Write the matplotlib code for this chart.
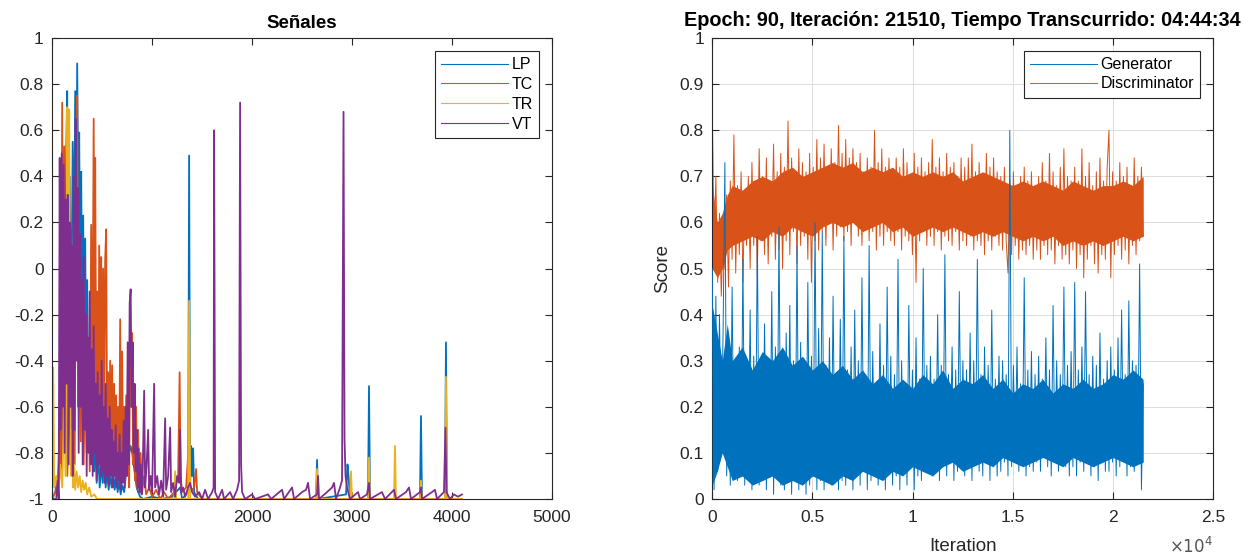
import numpy as np
import matplotlib
matplotlib.use('Agg')
import matplotlib.pyplot as plt
from matplotlib.ticker import FuncFormatter

plt.rcParams['font.family'] = ['Liberation Sans', 'DejaVu Sans']
plt.rcParams['axes.unicode_minus'] = False

# --- left panel: signals (sample index, value) ---
lp_x = [0, 30, 60, 80, 95, 110, 125, 140, 150, 160, 175, 190, 205, 220, 230, 240, 250, 260, 270, 280,
        290, 300, 310, 320, 330, 340, 350, 360, 370, 380, 390, 400, 410, 420, 430, 445, 460, 475, 490, 505,
        520, 535, 550, 565, 580, 595, 610, 625, 640, 655, 670, 685, 700, 720, 740, 755, 770, 785, 800, 815,
        830, 845, 860, 880, 910, 1000, 1100, 1200, 1280, 1300, 1360, 1370, 1380, 1390, 1400, 1410, 1420, 1460,
        2640, 2650, 2660, 2940, 2955, 2965, 2980, 3160, 3170, 3180, 3680, 3690, 3700, 3930, 3940, 3950, 4100]
lp_y = [-1, -0.97, -0.9, -0.6, -0.9, 0.2, -0.5, 0.5, 0.77, -0.2, 0.4, -0.3, 0.55, 0.1, 0.77, 0.2, 0.89, 0.3, 0.59, -0.1,
        0.42, -0.3, 0.23, -0.4, 0.13, -0.5, -0.05, -0.6, -0.3, -0.7, -0.45, -0.8, -0.65, -0.88, -0.7, -0.93, -0.8, -0.95, -0.85, -0.93,
        -0.82, -0.95, -0.88, -0.96, -0.9, -0.95, -0.87, -0.96, -0.9, -0.97, -0.92, -0.98, -0.94, -0.97, -0.88, -0.82, -0.8, -0.77, -0.8, -0.85,
        -0.9, -0.95, -0.97, -0.99, -1, -0.99, -1, -0.99, -0.95, -1, -0.97, 0.49, -0.95, -0.77, -0.9, -0.78, -0.97, -1,
        -1, -0.83, -1, -0.98, -0.85, -0.9, -1, -1, -0.51, -1, -1, -0.64, -1, -1, -0.32, -1, -1]

tc_x = [0, 50, 70, 85, 100, 110, 120, 130, 140, 150, 165, 180, 195, 210, 225, 240, 250, 260, 270, 285,
        300, 315, 330, 345, 360, 375, 390, 400, 415, 425, 430, 440, 450, 460, 470, 480, 490, 500, 510, 520,
        530, 540, 550, 560, 570, 580, 590, 600, 610, 620, 630, 640, 650, 660, 670, 680, 690, 700, 710, 720,
        730, 740, 750, 760, 770, 780, 790, 800, 810, 820, 830, 840, 850, 860, 870, 885, 900, 920, 940, 970,
        1000, 1040, 1080, 1120, 1160, 1220, 1260, 1275, 1285, 1300, 1340, 1370, 1380, 1420, 1440, 1450, 1500, 4100]
tc_y = [-1, -0.95, -0.85, -0.9, 0.72, -0.8, 0.53, -0.6, 0.2, -0.9, -0.7, 0.1, -0.8, -0.5, -0.85, 0.35, 0.75, -0.6, 0.1, -0.75,
        -0.2, -0.85, -0.4, -0.8, -0.3, -0.88, 0.19, -0.7, 0.65, -0.6, 0.48, -0.5, -0.1, -0.75, 0.1, -0.6, 0.05, -0.8, 0.0, -0.7,
        0.04, 0.17, -0.8, -0.45, -0.85, -0.4, -0.88, -0.42, -0.83, -0.5, -0.9, -0.55, -0.85, -0.6, -0.9, -0.22, -0.8, -0.36, -0.88, -0.6,
        -0.93, -0.55, -0.9, -0.7, -0.95, -0.25, -0.6, -0.28, -0.85, -0.5, -0.92, -0.6, -0.95, -0.7, -0.96, -0.8, -0.97, -0.9, -0.98, -0.95,
        -0.99, -0.96, -1, -0.97, -1, -0.97, -0.9, -0.45, -0.9, -0.97, -0.95, -0.74, -0.97, -0.95, -0.87, -0.97, -1, -1]

tr_x = [0, 10, 20, 40, 60, 80, 100, 120, 135, 150, 160, 170, 180, 190, 200, 210, 220, 230, 245, 260,
        275, 290, 305, 320, 335, 350, 370, 390, 420, 450, 1220, 1230, 1240, 1360, 1370, 1380, 2640, 2650, 2660,
        2980, 2990, 3000, 3160, 3170, 3180, 3420, 3430, 3440, 3680, 3690, 3700, 3930, 3940, 3950, 4100]
tr_y = [-1, -0.43, -0.95, -0.9, -0.98, -0.85, -0.95, -0.6, -0.9, 0.7, 0.2, 0.69, -0.5, -0.9, -0.7, -0.95, -0.85, -0.96, -0.88, -0.95,
        -0.9, -0.97, -0.92, -0.96, -0.93, -0.98, -0.95, -0.99, -0.98, -1, -1, -0.88, -1, -1, -0.14, -1, -1, -0.87, -1,
        -1, -0.88, -1, -1, -0.82, -1, -1, -0.77, -1, -1, -0.92, -1, -1, -0.47, -1, -1]

vt_x = [0, 40, 55, 65, 75, 85, 95, 105, 115, 125, 135, 145, 155, 165, 175, 185, 195, 205, 215, 225,
        235, 245, 255, 265, 275, 285, 295, 305, 315, 325, 335, 345, 355, 365, 375, 385, 395, 405, 415, 425,
        435, 445, 455, 465, 475, 485, 495, 505, 515, 525, 535, 545, 555, 565, 575, 585, 595, 605, 615, 625,
        635, 645, 655, 665, 675, 685, 695, 705, 715, 725, 735, 745, 755, 765, 775, 785, 795, 805, 815, 825,
        835, 845, 855, 865, 875, 885, 895, 905, 920, 930, 945, 960, 970, 985, 1000, 1020, 1030, 1050, 1070, 1090,
        1110, 1130, 1140, 1160, 1180, 1190, 1210, 1230, 1250, 1270, 1280, 1290, 1310, 1330, 1360, 1380, 1400, 1430, 1470, 1500,
        1530, 1560, 1600, 1615, 1620, 1630, 1660, 1700, 1720, 1780, 1810, 1850, 1870, 1880, 1890, 1900, 1930, 2000, 2030, 2160,
        2190, 2300, 2320, 2400, 2420, 2500, 2540, 2560, 2580, 2650, 2660, 2670, 2750, 2800, 2820, 2840, 2880, 2900, 2915, 2925,
        2935, 2950, 2980, 3060, 3080, 3150, 3170, 3180, 3300, 3330, 3420, 3440, 3540, 3570, 3590, 3680, 3690, 3700, 3800, 3830,
        3850, 3920, 3935, 3945, 3980, 4020, 4060, 4100]
vt_y = [-1, -1, -0.92, -1, 0.48, -0.7, 0.5, -0.6, 0.45, -0.8, 0.3, -0.5, 0.32, -0.85, 0.2, -0.6, 0.1, -0.9, 0.4, -0.7,
        0.65, -0.4, 0.35, -0.8, 0.15, -0.6, -0.05, -0.85, 0.05, -0.7, -0.2, -0.9, -0.3, -0.8, -0.1, -0.85, -0.35, -0.9, -0.25, -0.8,
        -0.5, -0.92, -0.45, -0.85, -0.55, -0.9, -0.4, -0.88, -0.6, -0.93, -0.5, -0.9, -0.65, -0.94, -0.6, -0.9, -0.7, -0.95, -0.75, -0.9,
        -0.68, -0.95, -0.8, -0.92, -0.72, -0.96, -0.8, -0.93, -0.66, -0.95, -0.6, -0.9, -0.32, -0.85, -0.15, -0.09, -0.6, -0.32, -0.8, -0.5,
        -0.88, -0.7, -0.95, -0.78, -0.97, -0.85, -0.98, -0.9, -0.53, -0.95, -0.85, -0.7, -0.96, -0.9, -0.97, -0.5, -0.95, -0.9, -0.98, -0.92,
        -0.99, -0.65, -0.96, -0.9, -0.69, -0.97, -0.93, -0.99, -0.9, -0.93, -0.7, -0.97, -0.95, -0.99, -0.95, -0.93, -0.97, -0.99, -0.97, -1,
        -0.96, -1, -0.97, -0.95, 0.6, -0.97, -1, -0.96, -1, -0.97, -1, -0.96, -0.92, 0.72, -0.85, -0.97, -1, -0.98, -1, -0.98,
        -1, -0.96, -1, -0.95, -1, -0.97, -0.96, -0.93, -1, -0.98, -0.9, -1, -0.97, -0.95, -0.93, -1, -0.95, -0.92, 0.68, -0.74,
        -0.9, -0.95, -1, -0.97, -1, -0.98, -0.93, -1, -0.97, -1, -0.96, -1, -0.97, -0.95, -1, -0.97, -0.95, -1, -0.97, -0.96,
        -1, -0.97, -0.69, -0.97, -1, -0.98, -0.99, -0.98]

signal_names = ['LP', 'TC', 'TR', 'VT']

# --- right panel: GAN scores, sampled across 21510 iterations ---
n_iter = 21510
gen_score = [
    0.50, 0.02, 0.44, 0.06, 0.40, 0.12, 0.36, 0.73, 0.05, 0.30, 0.03, 0.46, 0.08, 0.28, 0.04, 0.33, 0.06, 0.52, 0.03, 0.27,
    0.05, 0.41, 0.02, 0.31, 0.07, 0.57, 0.03, 0.29, 0.04, 0.38, 0.02, 0.26, 0.06, 0.45, 0.01, 0.33, 0.05, 0.59, 0.03, 0.28,
    0.02, 0.36, 0.05, 0.42, 0.01, 0.30, 0.04, 0.55, 0.02, 0.34, 0.06, 0.27, 0.01, 0.47, 0.03, 0.31, 0.05, 0.60, 0.02, 0.37,
    0.04, 0.58, 0.02, 0.29, 0.06, 0.35, 0.03, 0.44, 0.05, 0.26, 0.02, 0.39, 0.04, 0.57, 0.03, 0.28, 0.06, 0.33, 0.02, 0.41,
    0.05, 0.30, 0.03, 0.48, 0.07, 0.27, 0.02, 0.55, 0.04, 0.32, 0.06, 0.25, 0.03, 0.38, 0.05, 0.29, 0.02, 0.46, 0.06, 0.31,
    0.03, 0.27, 0.05, 0.52, 0.02, 0.30, 0.06, 0.24, 0.03, 0.42, 0.07, 0.28, 0.02, 0.35, 0.05, 0.26, 0.04, 0.50, 0.06, 0.29,
    0.07, 0.31, 0.05, 0.26, 0.08, 0.40, 0.04, 0.29, 0.07, 0.53, 0.05, 0.27, 0.09, 0.33, 0.04, 0.28, 0.06, 0.45, 0.08, 0.30,
    0.05, 0.28, 0.07, 0.36, 0.04, 0.30, 0.08, 0.52, 0.06, 0.27, 0.05, 0.33, 0.09, 0.29, 0.04, 0.41, 0.07, 0.26, 0.05, 0.31,
    0.06, 0.30, 0.08, 0.27, 0.05, 0.80, 0.07, 0.29, 0.09, 0.33, 0.06, 0.25, 0.08, 0.48, 0.05, 0.28, 0.07, 0.32, 0.06, 0.27,
    0.08, 0.31, 0.06, 0.26, 0.09, 0.35, 0.07, 0.28, 0.05, 0.42, 0.08, 0.30, 0.06, 0.27, 0.09, 0.46, 0.07, 0.29, 0.05, 0.32,
    0.07, 0.47, 0.05, 0.28, 0.08, 0.33, 0.06, 0.45, 0.09, 0.27, 0.05, 0.31, 0.07, 0.29, 0.04, 0.36, 0.08, 0.26, 0.06, 0.30,
    0.06, 0.33, 0.08, 0.28, 0.05, 0.35, 0.07, 0.41, 0.09, 0.27, 0.05, 0.43, 0.07, 0.30, 0.06, 0.29, 0.08, 0.51, 0.02, 0.25]
disc_score = [
    0.85, 0.55, 0.70, 0.47, 0.62, 0.44, 0.58, 0.50, 0.66, 0.46, 0.69, 0.52, 0.79, 0.49, 0.68, 0.53, 0.71, 0.47, 0.67, 0.55,
    0.70, 0.50, 0.73, 0.55, 0.68, 0.48, 0.76, 0.56, 0.70, 0.53, 0.74, 0.51, 0.69, 0.57, 0.77, 0.52, 0.71, 0.54, 0.75, 0.50,
    0.72, 0.56, 0.82, 0.53, 0.74, 0.58, 0.70, 0.51, 0.76, 0.55, 0.73, 0.57, 0.71, 0.52, 0.75, 0.47, 0.72, 0.56, 0.78, 0.54,
    0.74, 0.58, 0.77, 0.55, 0.72, 0.60, 0.76, 0.54, 0.73, 0.57, 0.81, 0.59, 0.75, 0.56, 0.78, 0.58, 0.74, 0.55, 0.76, 0.60,
    0.73, 0.57, 0.75, 0.55, 0.71, 0.59, 0.74, 0.56, 0.72, 0.58, 0.80, 0.54, 0.73, 0.57, 0.76, 0.55, 0.72, 0.58, 0.74, 0.56,
    0.71, 0.55, 0.74, 0.58, 0.72, 0.54, 0.76, 0.57, 0.73, 0.56, 0.70, 0.53, 0.75, 0.47, 0.72, 0.56, 0.74, 0.58, 0.71, 0.55,
    0.73, 0.57, 0.78, 0.55, 0.72, 0.58, 0.74, 0.54, 0.71, 0.57, 0.75, 0.56, 0.72, 0.55, 0.73, 0.58, 0.70, 0.54, 0.74, 0.56,
    0.72, 0.55, 0.74, 0.57, 0.77, 0.54, 0.71, 0.56, 0.73, 0.55, 0.70, 0.53, 0.75, 0.56, 0.72, 0.54, 0.74, 0.57, 0.71, 0.55,
    0.70, 0.54, 0.72, 0.56, 0.49, 0.69, 0.53, 0.71, 0.55, 0.68, 0.52, 0.70, 0.54, 0.72, 0.53, 0.69, 0.55, 0.71, 0.52, 0.68,
    0.54, 0.70, 0.52, 0.73, 0.55, 0.69, 0.53, 0.75, 0.54, 0.71, 0.51, 0.68, 0.55, 0.72, 0.52, 0.76, 0.53, 0.70, 0.51, 0.69,
    0.54, 0.72, 0.50, 0.69, 0.53, 0.76, 0.48, 0.70, 0.52, 0.73, 0.55, 0.68, 0.51, 0.71, 0.49, 0.74, 0.53, 0.69, 0.52, 0.72,
    0.80, 0.48, 0.71, 0.53, 0.69, 0.55, 0.73, 0.52, 0.70, 0.54, 0.72, 0.51, 0.68, 0.55, 0.74, 0.53, 0.70, 0.56, 0.72, 0.57]

# dense core of each noisy trace (lower / upper edge of the solid band)
band_x = [0, 250, 500, 750, 1000, 1500, 2000, 2500, 3000, 3500,
          4000, 4500, 5000, 5500, 6000, 6500, 7000, 7500, 8000, 8500,
          9000, 9500, 10000, 10500, 11000, 11500, 12000, 12500, 13000, 13500,
          14000, 14500, 15000, 15500, 16000, 16500, 17000, 17500, 18000, 18500,
          19000, 19500, 20000, 20500, 21000, 21500, 21510]
gen_lo = [0.03, 0.06, 0.10, 0.07, 0.04, 0.05, 0.03, 0.04, 0.05, 0.03,
          0.04, 0.03, 0.05, 0.04, 0.03, 0.05, 0.04, 0.06, 0.05, 0.04,
          0.06, 0.05, 0.07, 0.06, 0.05, 0.07, 0.08, 0.06, 0.07, 0.08,
          0.07, 0.09, 0.08, 0.07, 0.08, 0.09, 0.08, 0.07, 0.09, 0.08,
          0.07, 0.08, 0.09, 0.08, 0.07, 0.08, 0.08]
gen_hi = [0.42, 0.36, 0.30, 0.38, 0.30, 0.33, 0.28, 0.32, 0.30, 0.33,
          0.29, 0.31, 0.28, 0.30, 0.27, 0.29, 0.26, 0.28, 0.25, 0.27,
          0.24, 0.26, 0.24, 0.27, 0.25, 0.28, 0.24, 0.26, 0.25, 0.27,
          0.24, 0.26, 0.23, 0.25, 0.24, 0.26, 0.23, 0.25, 0.24, 0.26,
          0.24, 0.25, 0.27, 0.26, 0.28, 0.26, 0.25]
disc_lo = [0.50, 0.48, 0.50, 0.54, 0.55, 0.56, 0.57, 0.56, 0.58, 0.57,
           0.59, 0.58, 0.57, 0.59, 0.60, 0.59, 0.60, 0.58, 0.59, 0.60,
           0.58, 0.59, 0.57, 0.58, 0.59, 0.58, 0.59, 0.58, 0.57, 0.58,
           0.57, 0.58, 0.57, 0.56, 0.57, 0.56, 0.57, 0.55, 0.56, 0.55,
           0.56, 0.55, 0.56, 0.57, 0.56, 0.57, 0.57]
disc_hi = [0.68, 0.60, 0.62, 0.66, 0.68, 0.67, 0.69, 0.70, 0.69, 0.71,
           0.72, 0.70, 0.71, 0.72, 0.73, 0.72, 0.73, 0.71, 0.72, 0.71,
           0.72, 0.70, 0.71, 0.70, 0.71, 0.70, 0.71, 0.69, 0.70, 0.71,
           0.70, 0.69, 0.68, 0.69, 0.68, 0.69, 0.68, 0.67, 0.69, 0.68,
           0.67, 0.68, 0.68, 0.69, 0.68, 0.70, 0.69]

c_blue = (0, 0.447, 0.741)
c_orange = (0.85, 0.325, 0.098)
c_yellow = (0.929, 0.694, 0.125)
c_purple = (0.494, 0.184, 0.556)
axcol = '#262626'

fig = plt.figure(figsize=(12.43, 5.56), dpi=100)

def matlab_axes(ax):
    for s in ax.spines.values():
        s.set_color(axcol)
        s.set_linewidth(0.8)
    ax.tick_params(direction='in', top=True, right=True, length=5, width=0.8,
                   colors=axcol, labelsize=12.5)
    ax.tick_params(axis='x', pad=8)
    ax.tick_params(axis='y', pad=6)

# left
ax1 = fig.add_axes([0.042, 0.1025, 0.402, 0.829])
ax1.plot(lp_x, lp_y, color=c_blue, lw=1.3, label=signal_names[0])
ax1.plot(tc_x, tc_y, color=c_orange, lw=1.3, label=signal_names[1])
ax1.plot(tr_x, tr_y, color=c_yellow, lw=1.3, label=signal_names[2])
ax1.plot(vt_x, vt_y, color=c_purple, lw=1.3, label=signal_names[3])
ax1.set_xlim(0, 5000)
ax1.set_ylim(-1, 1)
ax1.set_xticks(np.arange(0, 5001, 1000))
ax1.set_yticks(np.arange(-1, 1.01, 0.2))
ax1.yaxis.set_major_formatter(FuncFormatter(lambda v, p: '0' if abs(v) < 1e-9 else f'{round(v, 1):g}'))
matlab_axes(ax1)
ax1.set_title('Señales', fontsize=13.5, fontweight='bold', color='black', pad=7)
leg1 = ax1.legend(loc='upper right', fontsize=11.5, handlelength=4.2, handletextpad=0.2,
                  borderaxespad=0.8, labelspacing=0.3, fancybox=False, framealpha=1,
                  edgecolor=axcol, borderpad=0.4)
leg1.get_frame().set_linewidth(0.8)
for ln in leg1.get_lines():
    ln.set_linewidth(0.8)

# right
ax2 = fig.add_axes([0.573, 0.1025, 0.403, 0.829])
it = np.linspace(1, n_iter, len(gen_score))
ax2.fill_between(band_x, disc_lo, disc_hi, color=c_orange, lw=0, zorder=2)
ax2.plot(it, disc_score, color=c_orange, lw=0.7, label='Discriminator', zorder=2)
ax2.fill_between(band_x, gen_lo, gen_hi, color=c_blue, lw=0, zorder=3)
ax2.plot(it, gen_score, color=c_blue, lw=0.7, label='Generator', zorder=3)
ax2.set_xlim(0, 25000)
ax2.set_ylim(0, 1)
ax2.set_xticks(np.arange(0, 25001, 5000))
ax2.set_yticks(np.arange(0, 1.01, 0.1))
ax2.xaxis.set_major_formatter(FuncFormatter(lambda v, p: f'{v / 1e4:g}'))
ax2.yaxis.set_major_formatter(FuncFormatter(lambda v, p: '0' if abs(v) < 1e-9 else f'{round(v, 1):g}'))
ax2.grid(True, color='#dcdcdc', lw=0.7)
ax2.set_axisbelow(True)
matlab_axes(ax2)
ax2.set_xlabel('Iteration', fontsize=13.5, color=axcol, labelpad=9)
ax2.set_ylabel('Score', fontsize=13.5, color=axcol, labelpad=6)
ax2.text(1.0, -0.117, r'$\times10^{4}$', transform=ax2.transAxes, ha='right', va='baseline',
         fontsize=12, color='#555555')
ax2.set_title('Epoch: 90, Iteración: 21510, Tiempo Transcurrido: 04:44:34',
              fontsize=14.3, fontweight='bold', color='black', pad=9)
h, l = ax2.get_legend_handles_labels()
leg2 = ax2.legend(h[::-1], l[::-1], loc='upper right', fontsize=11.5, handlelength=4.2,
                  handletextpad=0.2, borderaxespad=0.8, labelspacing=0.25, fancybox=False,
                  framealpha=1, edgecolor=axcol, borderpad=0.4)
leg2.get_frame().set_linewidth(0.8)

fig.savefig('out.png', dpi=100)
